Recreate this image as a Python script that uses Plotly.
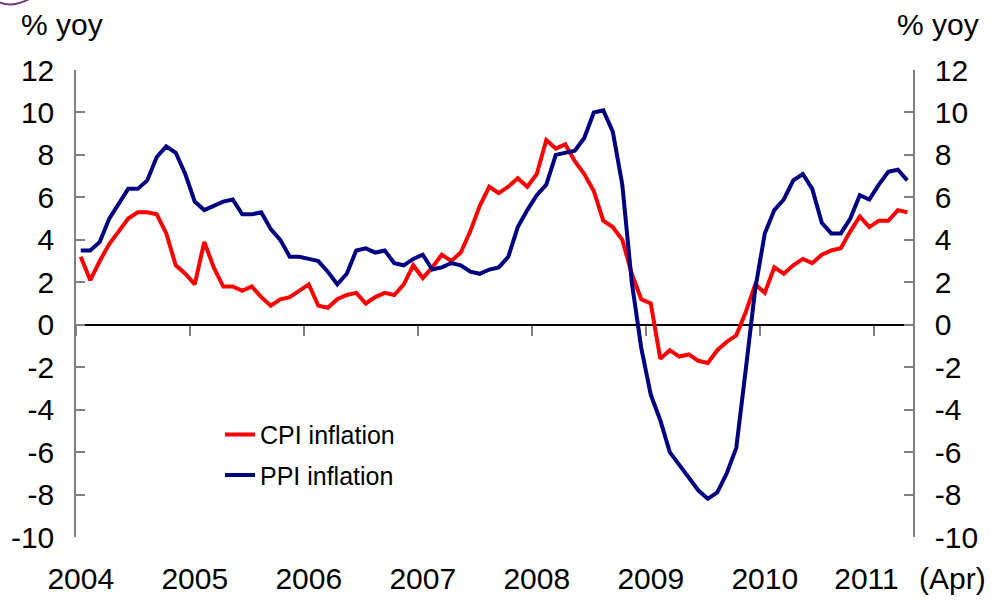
import plotly.graph_objects as go

# ---- data (monthly, Jan 2004 - Apr 2011, % yoy) ----
cpi = [3.2, 2.1, 3.0, 3.8, 4.4, 5.0, 5.3, 5.3, 5.2, 4.3, 2.8, 2.4,
       1.9, 3.9, 2.7, 1.8, 1.8, 1.6, 1.8, 1.3, 0.9, 1.2, 1.3, 1.6,
       1.9, 0.9, 0.8, 1.2, 1.4, 1.5, 1.0, 1.3, 1.5, 1.4, 1.9, 2.8,
       2.2, 2.7, 3.3, 3.0, 3.4, 4.4, 5.6, 6.5, 6.2, 6.5, 6.9, 6.5,
       7.1, 8.7, 8.3, 8.5, 7.7, 7.1, 6.3, 4.9, 4.6, 4.0, 2.4, 1.2,
       1.0, -1.6, -1.2, -1.5, -1.4, -1.7, -1.8, -1.2, -0.8, -0.5, 0.6, 1.9,
       1.5, 2.7, 2.4, 2.8, 3.1, 2.9, 3.3, 3.5, 3.6, 4.4, 5.1, 4.6,
       4.9, 4.9, 5.4, 5.3]
ppi = [3.5, 3.5, 3.9, 5.0, 5.7, 6.4, 6.4, 6.8, 7.9, 8.4, 8.1, 7.1,
       5.8, 5.4, 5.6, 5.8, 5.9, 5.2, 5.2, 5.3, 4.5, 4.0, 3.2, 3.2,
       3.1, 3.0, 2.5, 1.9, 2.4, 3.5, 3.6, 3.4, 3.5, 2.9, 2.8, 3.1,
       3.3, 2.6, 2.7, 2.9, 2.8, 2.5, 2.4, 2.6, 2.7, 3.2, 4.6, 5.4,
       6.1, 6.6, 8.0, 8.1, 8.2, 8.8, 10.0, 10.1, 9.1, 6.6, 2.0, -1.1,
       -3.3, -4.5, -6.0, -6.6, -7.2, -7.8, -8.2, -7.9, -7.0, -5.8, -2.1, 1.7,
       4.3, 5.4, 5.9, 6.8, 7.1, 6.4, 4.8, 4.3, 4.3, 5.0, 6.1, 5.9,
       6.6, 7.2, 7.3, 6.8]
years = ["2004", "2005", "2006", "2007", "2008", "2009", "2010", "2011"]
y_ticks = [-10, -8, -6, -4, -2, 0, 2, 4, 6, 8, 10, 12]
y_ticktext = ["-10", "-8", "-6", "-4", "-2", "0", "2", "4", "6", "8", "10", "12"]

months = [i + 0.5 for i in range(len(cpi))]
n_months = len(cpi) + 0.1  # axis runs to end of Apr 2011

FONT = "Liberation Sans, Arial, sans-serif"
GRAY = "#808080"
FS = 30


def px(x):  # page pixel -> paper x
    return (x - 76) / 837


def py(y):  # page pixel -> paper y
    return (537.5 - y) / 467.5


fig = go.Figure()
fig.add_trace(go.Scatter(x=months, y=cpi, mode="lines", name="CPI inflation",
                         line=dict(color="#FF0000", width=4), legendgroup="a"))
fig.add_trace(go.Scatter(x=months, y=ppi, mode="lines", name="PPI inflation",
                         line=dict(color="#000080", width=4), legendgroup="b"))

label_pos = [12 * k + 0.5 for k in range(len(years) - 1)] + [83.2]

arc_path = (f"M {px(-1)},{py(2)} Q {px(12)},{py(8)} {px(29)},{py(-1)}")

fig.update_layout(
    width=1000, height=603,
    margin=dict(l=76, r=87, t=70, b=65.5, autoexpand=False),
    plot_bgcolor="white", paper_bgcolor="white",
    font=dict(family=FONT, size=FS, color="black"),
    showlegend=True,
    legend=dict(x=0.172, y=0.268, xanchor="left", yanchor="top",
                font=dict(size=25, family=FONT), tracegroupgap=5,
                bgcolor="rgba(0,0,0,0)", itemwidth=30),
    xaxis=dict(range=[0, n_months], tickmode="array", tickvals=label_pos,
               ticktext=years, showline=False, showgrid=False, zeroline=False,
               ticks="", ticklabelstandoff=21, tickfont=dict(size=FS), automargin=False),
    xaxis2=dict(overlaying="x", matches="x", anchor="free", position=10 / 22,
                tickmode="array", tickvals=[12 * k for k in range(len(years))],
                showticklabels=False, ticks="outside", ticklen=10, tickwidth=1.5,
                tickcolor=GRAY, showline=False, showgrid=False, zeroline=False,
                automargin=False),
    yaxis=dict(range=[-10, 12], tickmode="array", tickvals=y_ticks, ticktext=y_ticktext,
               showline=True, linecolor=GRAY, linewidth=1.5, ticks="inside", ticklen=9,
               tickwidth=1.5, tickcolor=GRAY, showgrid=False, zeroline=True,
               zerolinecolor="black", zerolinewidth=1.5, ticklabelstandoff=14,
               tickfont=dict(size=FS), automargin=False),
    yaxis2=dict(overlaying="y", matches="y", side="right", anchor="x",
                tickmode="array", tickvals=y_ticks, ticktext=y_ticktext,
                showline=True, linecolor=GRAY, linewidth=1.5, ticks="inside", ticklen=9,
                tickwidth=1.5, tickcolor=GRAY, showgrid=False, zeroline=False,
                ticklabelstandoff=14, tickfont=dict(size=FS), automargin=False),
    annotations=[
        dict(text="% yoy", xref="paper", yref="paper", x=px(62), y=py(24),
             xanchor="center", yanchor="middle", showarrow=False, font=dict(size=FS)),
        dict(text="% yoy", xref="paper", yref="paper", x=px(937.5), y=py(24),
             xanchor="center", yanchor="middle", showarrow=False, font=dict(size=FS)),
        dict(text="(Apr)", xref="paper", yref="paper", x=px(952), y=py(579),
             xanchor="center", yanchor="middle", showarrow=False, font=dict(size=FS)),
    ],
    shapes=[
        dict(type="path", xref="paper", yref="paper", path=arc_path,
             line=dict(color="#6B3A7D", width=2)),
    ],
)
# invisible traces so the secondary axes are drawn
fig.add_trace(go.Scatter(x=[None], y=[None], xaxis="x2", yaxis="y", showlegend=False, hoverinfo="skip"))
fig.add_trace(go.Scatter(x=[None], y=[None], xaxis="x", yaxis="y2", showlegend=False, hoverinfo="skip"))

fig.write_html("out.html", config={"displayModeBar": False},
               post_script="document.body.style.margin='0px';")
